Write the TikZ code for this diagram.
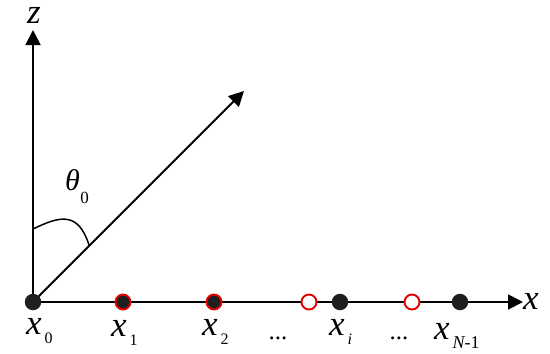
\documentclass[tikz,border=0pt]{standalone}
\usepackage{fontspec}
\setmainfont{Liberation Serif}
\usetikzlibrary{arrows.meta}
\newcommand\mysub[2]{#1\hspace{3pt}\raisebox{-9pt}{\fontsize{16}{16}\selectfont\upshape #2}}
\begin{document}
\begin{tikzpicture}[x=1pt,y=-1pt,
  axis/.style={line width=1.9pt, -{Triangle[length=15pt,width=15pt]}},
  bdot/.style={circle, fill=black!88, inner sep=0pt, minimum size=16.5pt},
  rdot/.style={circle, fill=black!88, draw=red!90!black, line width=1.9pt, inner sep=0pt, minimum size=15pt},
  odot/.style={circle, fill=white, draw=red!90!black, line width=1.9pt, inner sep=0pt, minimum size=15pt},
  lbl/.style={inner sep=0pt, anchor=base west, font=\fontsize{35}{35}\selectfont\itshape},
  dotsl/.style={inner sep=0pt, anchor=base, font=\fontsize{25}{25}\selectfont},
]
\useasboundingbox (0,0) rectangle (550,354);
\coordinate (O) at (33,302);
\coordinate (Z) at (33,30);
\coordinate (X) at (523,302);
\coordinate (D) at (244,91);
\coordinate (A0) at (33,229);
\coordinate (A1) at (89,245);

\draw[axis] (O) -- (Z);
\draw[axis] (O) -- (X);
\draw[axis] (O) -- (D);
\draw[line width=1.5pt] (A0) .. controls (60,216) and (78,211) .. (A1);

\node[bdot] (p0) at (O) {};
\node[rdot] (p1) at (123,302) {};
\node[rdot] (p2) at (214,302) {};
\node[odot] (q1) at (309,302) {};
\node[bdot] (pi) at (340,302) {};
\node[odot] (q2) at (412,302) {};
\node[bdot] (pn) at (460,302) {};

\node[lbl, text height=13pt] (lz) at (27,23) {z};
\node[lbl] (lx) at (523,309) {x};
\node[inner sep=0pt, anchor=base west, font=\fontsize{30}{30}\selectfont\itshape] (lth) at (65,190) {θ\hspace{0.5pt}\raisebox{-13pt}{\fontsize{17}{17}\selectfont\upshape 0}};

\node[lbl] (l0) at (26,334) {\mysub{x}{0}};
\node[lbl] (l1) at (111,336) {\mysub{x}{1}};
\node[lbl] (l2) at (202,335) {\mysub{x}{2}};
\node[dotsl] (d1) at (278,339) {...};
\node[lbl] (li) at (329,335) {\mysub{x}{\itshape i}};
\node[dotsl] (d2) at (399,339) {...};
\node[lbl] (ln) at (434,339) {x\hspace{3pt}\raisebox{-9pt}{\fontsize{18}{18}\selectfont N\upshape -1}};
\end{tikzpicture}
\end{document}
